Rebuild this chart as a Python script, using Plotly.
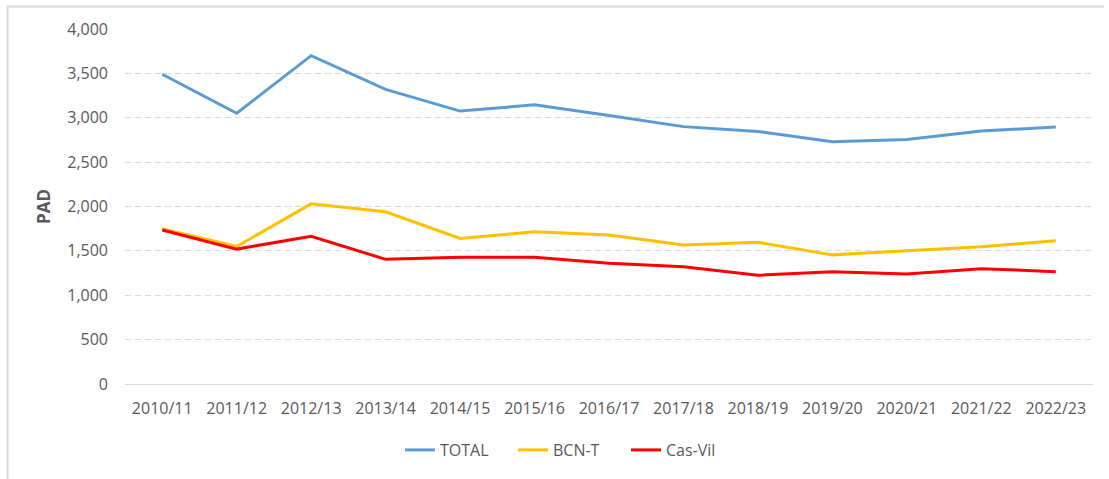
import plotly.graph_objects as go

categories = ["2010/11", "2011/12", "2012/13", "2013/14", "2014/15", "2015/16", "2016/17",
              "2017/18", "2018/19", "2019/20", "2020/21", "2021/22", "2022/23"]
total = [3490, 3050, 3700, 3320, 3075, 3145, 3025, 2900, 2845, 2730, 2755, 2850, 2895]
bcn_t = [1750, 1550, 2030, 1940, 1640, 1715, 1680, 1567, 1597, 1455, 1502, 1547, 1615]
cas_vil = [1735, 1520, 1665, 1405, 1428, 1428, 1360, 1322, 1225, 1266, 1240, 1300, 1266]
y_ticks = [0, 500, 1000, 1500, 2000, 2500, 3000, 3500, 4000]

series = [("TOTAL", total, "#5b9bd5"), ("BCN-T", bcn_t, "#ffc000"), ("Cas-Vil", cas_vil, "#ff0000")]

W, H = 1109, 479
ML, MR, MT, MB = 125, 16, 29, 95
pw, ph = W - ML - MR, H - MT - MB

fig = go.Figure()
for name, vals, col in series:
    fig.add_trace(go.Scatter(x=categories, y=vals, name=name, mode="lines",
                             line=dict(color=col, width=3)))

tick_font = dict(family="Open Sans", size=16, color="#595959")

def px2paper_x(px):
    return (px - ML) / pw

def px2paper_y(py):
    return (H - MB - py) / ph

fig.update_layout(
    width=W, height=H,
    margin=dict(l=ML, r=MR, t=MT, b=MB),
    paper_bgcolor="white", plot_bgcolor="white",
    showlegend=True,
    legend=dict(orientation="h", x=px2paper_x(400), xanchor="left",
                y=px2paper_y(450), yanchor="middle",
                entrywidth=68, entrywidthmode="pixels",
                font=dict(family="Open Sans", size=16, color="#595959"),
                bgcolor="rgba(0,0,0,0)"),
    xaxis=dict(type="category", showgrid=False, showline=True, linecolor="#d9d9d9",
               linewidth=1, tickfont=tick_font, ticks="", ticklabelstandoff=10,
               range=[-0.5, len(categories) - 0.5]),
    yaxis=dict(range=[0, 4000], tickvals=y_ticks, tickformat=",", showgrid=True,
               gridcolor="#d9d9d9", griddash="6px,4px", gridwidth=1, zeroline=False,
               showline=False, tickfont=tick_font, ticks="", ticklabelstandoff=16,
               title=dict(text="<b>PAD</b>", font=dict(family="Open Sans", size=17, color="#595959"),
                          standoff=12)),
    shapes=[
        dict(type="line", xref="paper", yref="paper", x0=px2paper_x(7), x1=px2paper_x(1104),
             y0=px2paper_y(6.5), y1=px2paper_y(6.5), line=dict(color="#d9d9d9", width=2)),
        dict(type="line", xref="paper", yref="paper", x0=px2paper_x(7.5), x1=px2paper_x(7.5),
             y0=px2paper_y(6), y1=px2paper_y(479), line=dict(color="#d9d9d9", width=2)),
    ],
)

fig.write_html("out.html", config={"displayModeBar": False},
               post_script="document.body.style.margin='0';")
